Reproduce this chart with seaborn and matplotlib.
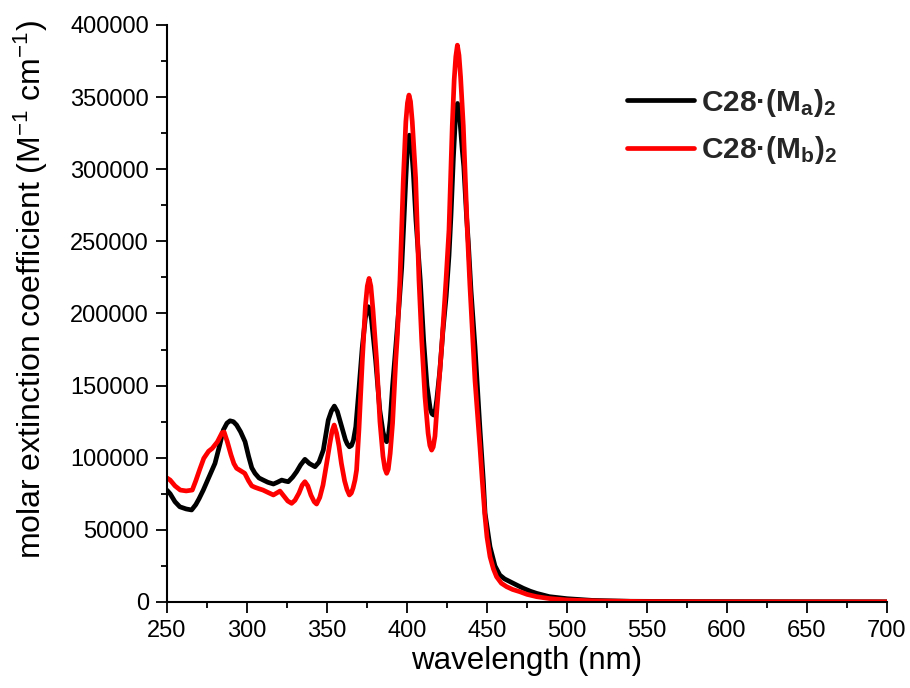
import matplotlib
matplotlib.use("Agg")
import matplotlib.pyplot as plt
from matplotlib.ticker import MultipleLocator, FuncFormatter
import pandas as pd
import seaborn as sns

# Absorption spectrum of C28·(Ma)2
wl_a = [250, 252, 255, 258, 262, 265.4, 268, 270, 272.7, 276, 280, 283, 285.2, 287.5,
        289.4, 291.5, 293.5, 296, 298.8, 301, 303, 305, 307.5, 310.2, 313, 316.5, 319,
        321.7, 324, 325.8, 328.5, 331, 333.5, 336.2, 339, 342.5, 345, 347.7, 350.8,
        352.8, 354.6, 356.5, 359.2, 361.5, 362.7, 364, 365.3, 366.5, 368, 370, 372, 374,
        375, 375.8, 376.7, 377.8, 380.4, 383, 385, 386.2, 387.3, 388.3, 389.5, 391, 393,
        395, 396.7, 398.1, 399.3, 400.4, 401.5, 402.6, 404, 405.6, 408.3, 410.4, 412.5,
        414.5, 415.6, 416.6, 417.6, 418.6, 420.5, 422.5, 424.5, 426.25, 427.5, 429,
        430.3, 431.6, 432.8, 434.5, 435.5, 437.3, 438.3, 440, 442.5, 445.6, 447.7,
        448.8, 451.9, 455, 458, 461, 464.4, 468.5, 472.7, 477, 481, 489, 500, 516, 540,
        580, 640, 700]
eps_a = [77500, 75000, 69500, 66000, 64500, 63800, 67500, 71500, 77600, 86000, 96100,
         109000, 119200, 124000, 125600, 125000, 122700, 118000, 111100, 101000, 93000,
         89200, 86000, 84500, 83000, 81800, 83000, 84500, 83800, 83400, 86500, 90300,
         95000, 98900, 96000, 93800, 97000, 105300, 126100, 132500, 135800, 132000,
         121500, 112500, 109500, 107600, 108500, 112000, 121500, 148000, 176000, 197000,
         202500, 204700, 203000, 196000, 167700, 133000, 118000, 113000, 111100, 114000,
         126000, 150000, 177000, 205000, 232000, 264700, 294000, 318000, 323600, 318000,
         297000, 264700, 223100, 181600, 150000, 134000, 130500, 129600, 132000, 140000,
         160000, 188500, 212000, 240000, 268000, 308000, 336000, 345600, 338000, 314000,
         302000, 266000, 250000, 216200, 176900, 120000, 84500, 61500, 38300, 25000,
         18700, 16000, 14100, 11800, 9500, 7500, 6000, 3700, 2300, 1100, 500, 300, 200,
         150]

# Absorption spectrum of C28·(Mb)2
wl_b = [250, 252, 255, 258.3, 262, 265.8, 268, 270.5, 273, 276, 278.3, 281.5, 284.4,
        285.7, 287.7, 290, 291.8, 293.5, 296, 298.6, 301, 303, 305, 307.5, 310, 313,
        316.5, 318.5, 320.6, 323, 325.5, 327.9, 330, 332.5, 334.5, 336.2, 338, 340, 342,
        343.5, 345.5, 347.5, 349.8, 351.8, 353.2, 354.5, 356, 357.5, 359, 361, 362.5,
        364, 365.2, 366.3, 367.5, 368.5, 370, 371, 372.1, 374, 375.2, 376.3, 377.4,
        378.7, 381, 383.1, 385, 386.2, 387.3, 388.3, 389.5, 391, 393, 394, 395.6, 397.7,
        399.3, 400.3, 401.25, 402.2, 403.3, 405.4, 407.5, 409.2, 411.25, 413.2, 414.3,
        415.4, 416.4, 417.5, 418.5, 420, 421.7, 424.4, 426.25, 428.3, 429.5, 430.5,
        431.5, 432.5, 433.5, 435.2, 437.7, 439.3, 442.5, 445.6, 447, 448.7, 450, 451.9,
        454, 456, 459, 462.3, 466, 470.6, 475, 481, 489, 500, 520, 550, 600, 700]
eps_b = [86000, 84500, 80500, 77600, 77000, 77600, 84000, 92000, 99600, 104500, 106500,
         111000, 117300, 117800, 111100, 102000, 96000, 92700, 91000, 89200, 84000,
         80500, 79500, 78500, 77600, 76000, 74200, 75500, 76900, 73500, 70000, 68400,
         70500, 75500, 81000, 83400, 80500, 74000, 69500, 67900, 72500, 81000, 96100,
         110000, 118500, 122700, 117000, 108000, 96100, 84000, 78000, 74200, 75500,
         79000, 84500, 91500, 120000, 143000, 167700, 205000, 219000, 224300, 219000,
         203000, 167700, 125000, 101000, 92500, 89200, 92000, 103000, 124000, 167700,
         185000, 223100, 292400, 333000, 346000, 351400, 347000, 333000, 294000, 223100,
         181600, 142300, 117000, 108500, 105300, 107500, 115000, 130800, 152000, 176900,
         223100, 257800, 330000, 362000, 378000, 386000, 379000, 364000, 330000, 257800,
         220000, 153800, 107600, 85000, 60000, 45000, 31400, 23000, 17500, 13000, 10600,
         8700, 7100, 5300, 3700, 2400, 1400, 700, 300, 150, 100]

label_a = r"C28·(M$_\mathbf{a}$)$_\mathbf{2}$"
label_b = r"C28·(M$_\mathbf{b}$)$_\mathbf{2}$"
series_colors = {label_a: "#000000", label_b: "#ff0000"}

df = pd.concat([
    pd.DataFrame({"wavelength": wl_a, "eps": eps_a, "sample": label_a}),
    pd.DataFrame({"wavelength": wl_b, "eps": eps_b, "sample": label_b}),
], ignore_index=True)

sns.set_theme(style="ticks")
plt.rcParams["font.family"] = ["Liberation Sans", "DejaVu Sans"]
plt.rcParams["mathtext.fontset"] = "custom"
plt.rcParams["mathtext.rm"] = "Liberation Sans"
plt.rcParams["mathtext.it"] = "Liberation Sans:italic"
plt.rcParams["mathtext.bf"] = "Liberation Sans:bold"

fig = plt.figure(figsize=(9.1, 6.88), dpi=100)
ax = fig.add_axes([0.1835, 0.125, 0.7912, 0.8387])

sns.lineplot(data=df, x="wavelength", y="eps", hue="sample",
             hue_order=[label_a, label_b], palette=series_colors,
             estimator=None, linewidth=3.4, ax=ax)

ax.set_xlim(250, 700)
ax.set_ylim(0, 400000)
ax.xaxis.set_major_locator(MultipleLocator(50))
ax.xaxis.set_minor_locator(MultipleLocator(25))
ax.yaxis.set_major_locator(MultipleLocator(50000))
ax.yaxis.set_minor_locator(MultipleLocator(25000))
ax.yaxis.set_major_formatter(FuncFormatter(lambda v, p: f"{v:.0f}"))

ax.set_xlabel("wavelength (nm)", fontsize=22.5, color="black", labelpad=3)
ax.set_ylabel(r"molar extinction coefficient (M$^{\mathrm{-1}}$ cm$^{\mathrm{-1}}$)",
              fontsize=23, color="black")
ax.yaxis.set_label_coords(-0.163, 0.542)

sns.despine(ax=ax)
for side in ("left", "bottom"):
    ax.spines[side].set_color("black")
    ax.spines[side].set_linewidth(1.5)
ax.tick_params(axis="both", which="major", direction="out", length=8, width=1.3,
               color="black", labelcolor="black", labelsize=17, pad=5)
ax.tick_params(axis="both", which="minor", direction="out", length=4, width=1.3,
               color="black")

handles, labels = ax.get_legend_handles_labels()
ax.legend(handles, labels, loc="upper left", bbox_to_anchor=(0.639, 0.893),
          frameon=False, borderpad=0, borderaxespad=0, handlelength=2.25,
          handletextpad=0.22, labelspacing=0.52,
          prop={"weight": "bold", "size": 21.5})

fig.savefig("out.png", dpi=100)
